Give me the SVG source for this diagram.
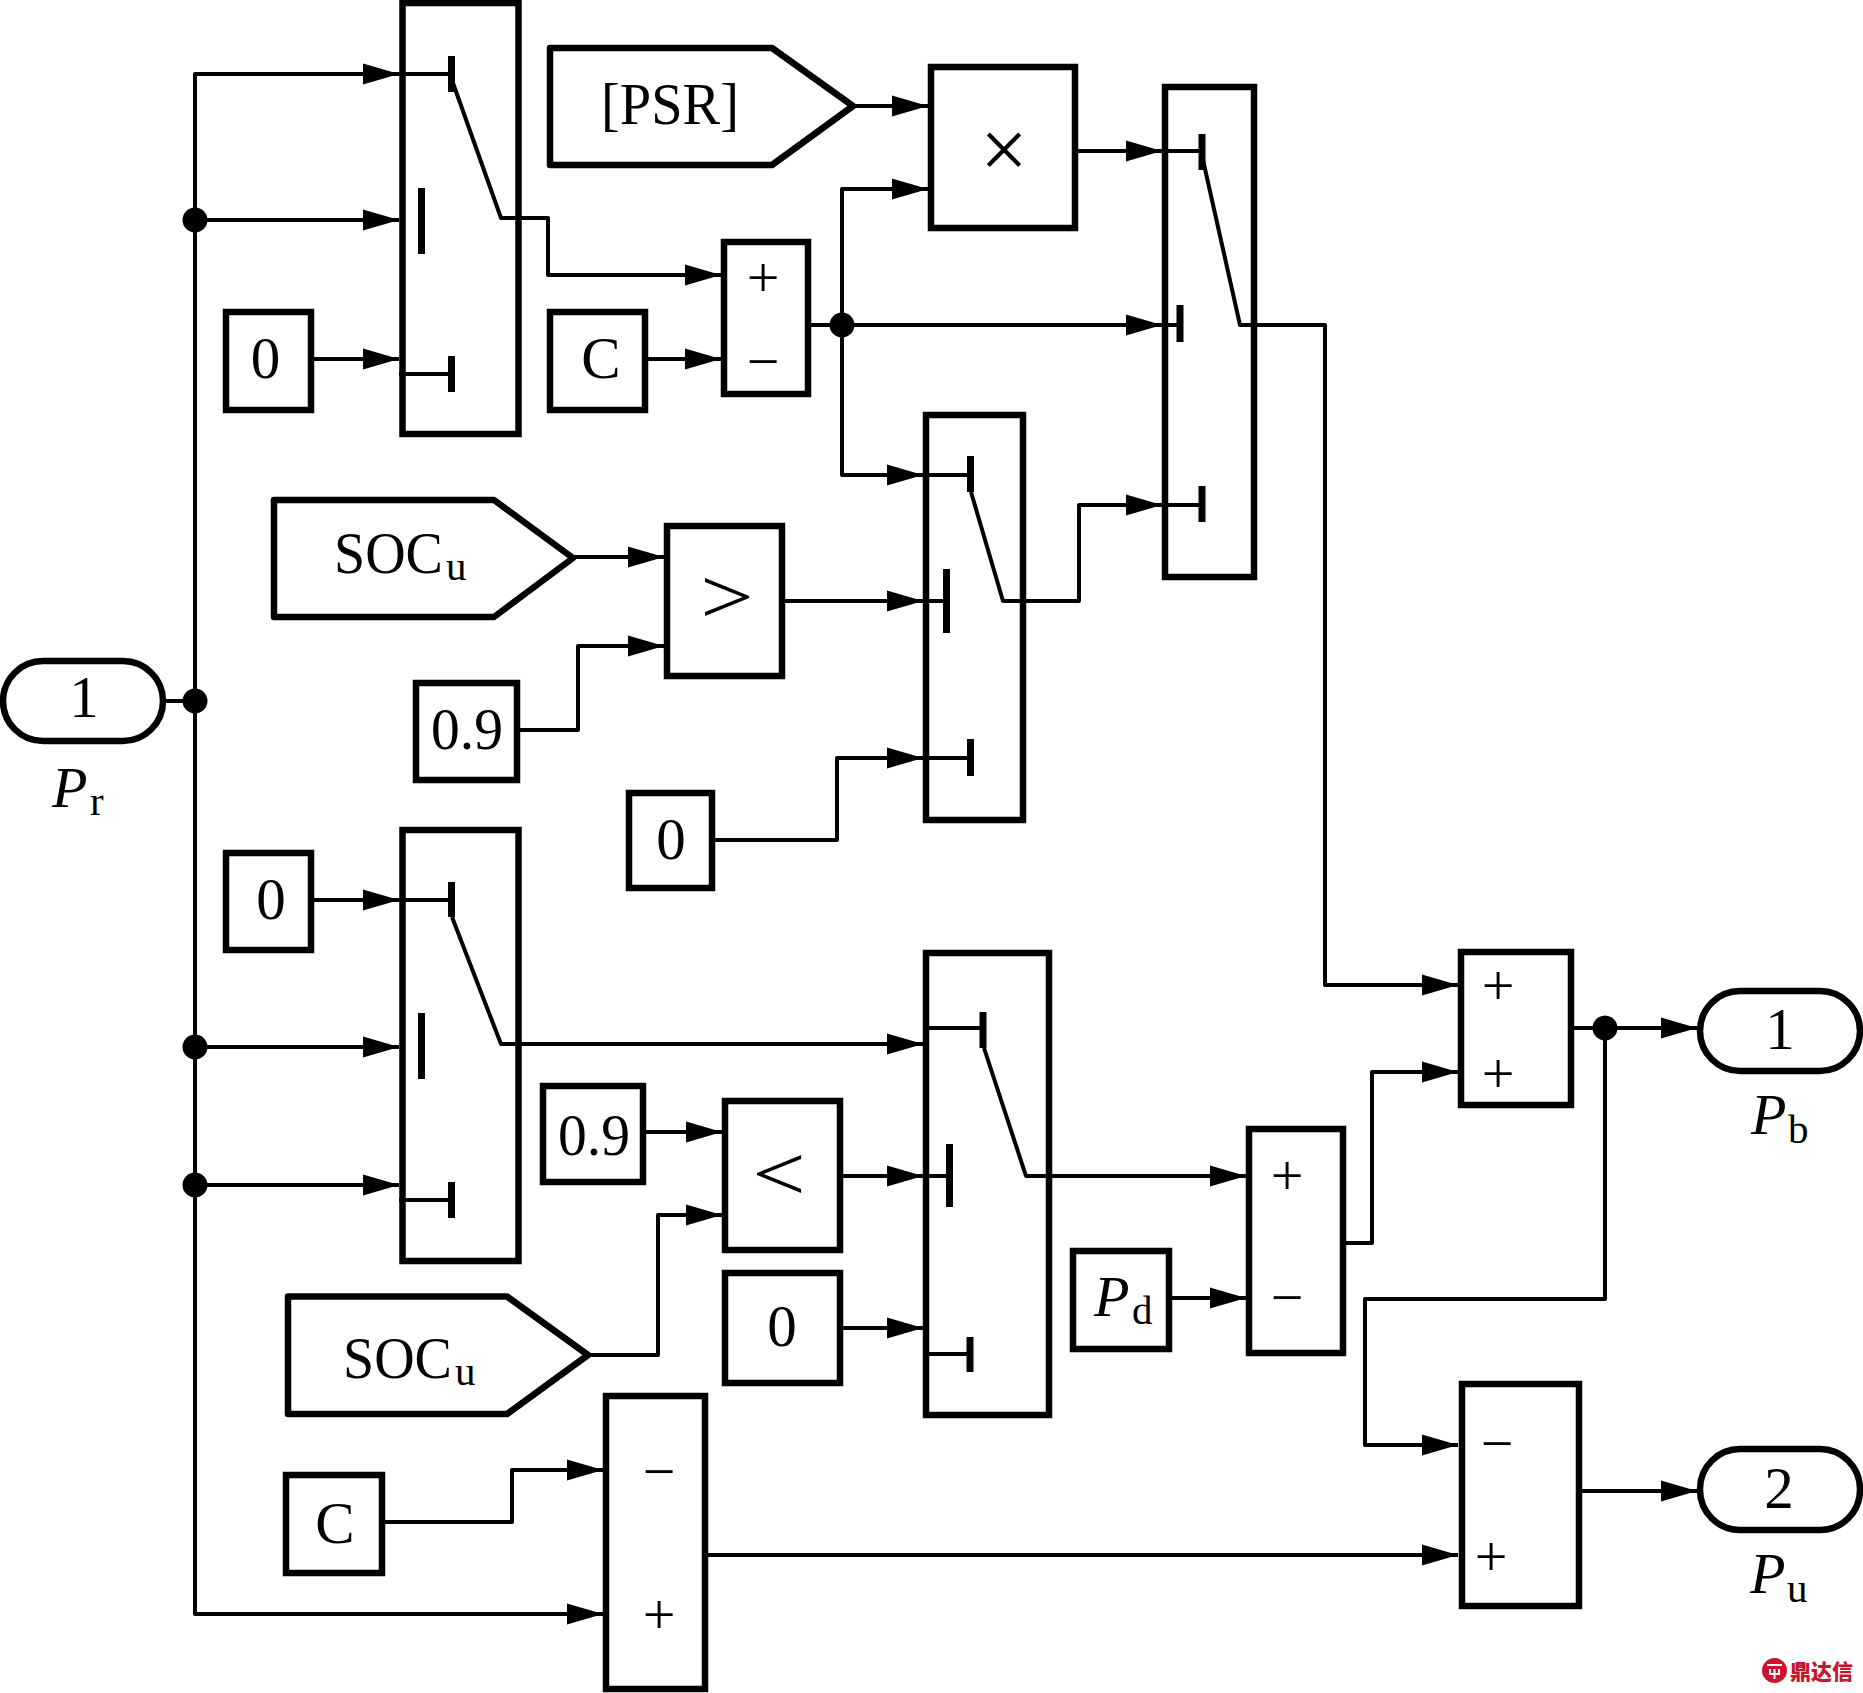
<svg xmlns="http://www.w3.org/2000/svg" width="1863" height="1693" viewBox="0 0 1863 1693">
<style>
.b{fill:none;stroke:#000;stroke-width:6.5;stroke-linejoin:miter}
.g{fill:none;stroke:#000;stroke-width:6.5;stroke-linejoin:round}
.w{fill:none;stroke:#000;stroke-width:4;stroke-linejoin:round}
.a{marker-end:url(#arrow)}
.k{fill:none;stroke:#000;stroke-width:7}
.d{fill:#000;stroke:none}
text{font-family:"Liberation Serif","Times New Roman",serif;fill:#000}
.t{font-size:59px;text-anchor:middle}
.n{font-size:60px}
.m{font-size:56px}
.s{font-size:41px}
.i{font-size:58px;font-style:italic}
.o{font-size:58px;text-anchor:middle}
.c{font-size:84px;text-anchor:middle}
</style>
<defs>
<marker id="arrow" markerUnits="userSpaceOnUse" markerWidth="36" markerHeight="22" refX="36" refY="11" orient="auto"><path d="M0,0.500 L36,11 L0,21.500 z" fill="#000"/></marker>
</defs>
<rect width="1863" height="1693" fill="#fff"/>

<g id="connectors">
<path class="w a" d="M195,701 V74 H399"/>
<path class="w a" d="M195,220 H399"/>
<path class="w a" d="M314,359 H399"/>
<path class="w a" d="M519,218 H548 V275 H721"/>
<path class="w a" d="M647,359 H721"/>
<path class="w a" d="M853,106 H928"/>
<path class="w a" d="M842,325 V189 H928"/>
<path class="w a" d="M1078,151 H1162"/>
<path class="w a" d="M811,325 H1162"/>
<path class="w a" d="M842,325 V475 H923"/>
<path class="w a" d="M1003,601 H1079 V505 H1162"/>
<path class="w a" d="M1240,325 H1325 V985 H1458"/>
<path class="w a" d="M573,557 H664"/>
<path class="w a" d="M520,730 H578 V646 H664"/>
<path class="w a" d="M785,601 H923"/>
<path class="w a" d="M715,840 H837 V758 H923"/>
<path class="w" d="M166,701 H195"/>
<path class="w a" d="M195,701 V1614 H603"/>
<path class="w a" d="M195,1047 H399"/>
<path class="w a" d="M195,1185 H399"/>
<path class="w a" d="M312,900 H399"/>
<path class="w a" d="M501,1044 H923"/>
<path class="w a" d="M644,1132 H722"/>
<path class="w a" d="M588,1355 H658 V1215 H722"/>
<path class="w a" d="M842,1176 H923"/>
<path class="w a" d="M842,1328 H923"/>
<path class="w a" d="M1026,1176 H1246"/>
<path class="w a" d="M1172,1298 H1246"/>
<path class="w a" d="M1346,1243 H1372 V1072 H1458"/>
<path class="w a" d="M1574,1028 H1697"/>
<path class="w a" d="M1605,1028 V1299 H1365 V1445 H1458"/>
<path class="w a" d="M1582,1491 H1697"/>
<path class="w a" d="M385,1522 H512 V1470 H603"/>
<path class="w a" d="M708,1555 H1458"/>
<circle class="d" cx="195" cy="220" r="12.500"/>
<circle class="d" cx="195" cy="701" r="12.500"/>
<circle class="d" cx="195" cy="1047" r="12.500"/>
<circle class="d" cx="195" cy="1185" r="12.500"/>
<circle class="d" cx="842" cy="325" r="12.500"/>
<circle class="d" cx="1605" cy="1028" r="12.500"/>
</g>

<g id="switch1">
<rect class="b" x="402.500" y="3" width="116" height="431"/>
<path class="w" d="M399,74 H451 M399,374 H451 M453,83 L501,218 H519"/>
<path class="k" d="M451.500,56 V92 M421.500,188 V254 M451.500,356 V392"/>
</g>
<g id="const0a"><rect class="b" x="226" y="312" width="85" height="98"/><text class="t" x="265.500" y="378">0</text></g>
<g id="psr"><path class="g" d="M550,48 H772 L853,106 L772,165 H550 Z"/><text x="601" y="124" class="n" textLength="138" lengthAdjust="spacingAndGlyphs">[PSR]</text></g>
<g id="constC1"><rect class="b" x="550" y="312" width="95" height="98"/><text class="t" x="601" y="378">C</text></g>
<g id="sum1"><rect class="b" x="724" y="242" width="84" height="152"/><text class="o" x="763" y="297">+</text><text class="o" x="763" y="381">−</text></g>
<g id="product"><rect class="b" x="931" y="67" width="144" height="161"/><text class="c" x="1004" y="178">×</text></g>
<g id="switch3">
<rect class="b" x="1165" y="87" width="89" height="490"/>
<path class="w" d="M1162,151 H1202 M1162,325 H1180 M1162,505 H1202 M1203,160 L1240,325 H1254"/>
<path class="k" d="M1202,134 V170 M1180,305 V342 M1202,486 V522"/>
</g>
<g id="soc1"><path class="g" d="M274,500 H494 L573,558 L494,617 H274 Z"/><text class="m" transform="translate(334,573) scale(1,1.07)" x="0" y="0">SOC</text><text class="s" x="446" y="580">u</text></g>
<g id="const09a"><rect class="b" x="416" y="683" width="101" height="97"/><text class="n" x="431" y="749" textLength="72" lengthAdjust="spacingAndGlyphs">0.9</text></g>
<g id="greater"><rect class="b" x="667" y="526" width="115" height="150"/><text class="c" transform="translate(727,623) scale(1.13,0.93)" x="0" y="0">&gt;</text></g>
<g id="switch2">
<rect class="b" x="926" y="415" width="97" height="405"/>
<path class="w" d="M923,475 H970 M923,601 H946 M923,758 H970 M971,492 L1003,601 H1023"/>
<path class="k" d="M970.500,456 V492 M946.500,569 V633 M970.500,739 V776"/>
</g>
<g id="const0b"><rect class="b" x="629" y="793" width="83" height="95"/><text class="t" x="671" y="859">0</text></g>
<g id="inport1"><rect class="b" x="3" y="661" width="160" height="80" rx="40" ry="40"/><text class="t" x="84" y="717">1</text></g>
<g id="labelPr"><text class="i" x="52" y="807">P</text><text class="s" x="90" y="815">r</text></g>
<g id="const0c"><rect class="b" x="226" y="853" width="85" height="97"/><text class="t" x="271" y="919">0</text></g>
<g id="switch4">
<rect class="b" x="402.500" y="830" width="116" height="431"/>
<path class="w" d="M399,900 H451 M399,1200 H451 M452,917 L501,1044 H519"/>
<path class="k" d="M451.500,882 V917 M421.500,1013 V1079 M451.500,1182 V1218"/>
</g>
<g id="const09b"><rect class="b" x="543" y="1086" width="100" height="96"/><text class="n" x="558" y="1155" textLength="72" lengthAdjust="spacingAndGlyphs">0.9</text></g>
<g id="less"><rect class="b" x="725" y="1101" width="115" height="149"/><text class="c" transform="translate(779,1200) scale(1.13,0.93)" x="0" y="0">&lt;</text></g>
<g id="soc2"><path class="g" d="M288,1296.500 H507 L588,1355 L507,1414 H288 Z"/><text class="m" transform="translate(343,1378) scale(1,1.07)" x="0" y="0">SOC</text><text class="s" x="455" y="1385">u</text></g>
<g id="const0d"><rect class="b" x="725" y="1273" width="115" height="110"/><text class="t" x="782" y="1346">0</text></g>
<g id="switch5">
<rect class="b" x="926" y="953" width="123" height="462"/>
<path class="w" d="M926,1028 H983 M926,1176 H949 M926,1354 H970 M984,1048 L1026,1176 H1049"/>
<path class="k" d="M983,1012 V1048 M949.500,1144 V1207 M970,1337 V1372"/>
</g>
<g id="constPd"><rect class="b" x="1073" y="1251" width="96" height="98"/><text class="i" x="1094" y="1316">P</text><text class="s" x="1132" y="1324">d</text></g>
<g id="sum3"><rect class="b" x="1249" y="1129" width="94" height="224"/><text class="o" x="1287" y="1195">+</text><text class="o" x="1287" y="1317">−</text></g>
<g id="sum4"><rect class="b" x="1461" y="952" width="110" height="153"/><text class="o" x="1498" y="1005">+</text><text class="o" x="1498" y="1093">+</text></g>
<g id="outport1"><rect class="b" x="1700" y="991" width="160" height="80" rx="40" ry="40"/><text class="t" x="1780" y="1049">1</text></g>
<g id="labelPb"><text class="i" x="1751" y="1134">P</text><text class="s" x="1788" y="1143">b</text></g>
<g id="sum5"><rect class="b" x="1462" y="1384" width="117" height="222"/><text class="o" x="1497" y="1463">−</text><text class="o" x="1491" y="1576">+</text></g>
<g id="outport2"><rect class="b" x="1700" y="1449" width="160" height="81" rx="40" ry="40"/><text class="t" x="1779" y="1508">2</text></g>
<g id="labelPu"><text class="i" x="1750" y="1593">P</text><text class="s" x="1787" y="1602">u</text></g>
<g id="constC2"><rect class="b" x="286" y="1475" width="96" height="98"/><text class="t" x="335" y="1543">C</text></g>
<g id="sum6"><rect class="b" x="606" y="1396" width="99" height="293"/><text class="o" x="659" y="1491">−</text><text class="o" x="659" y="1634">+</text></g>
<g id="watermark"><circle cx="1774.500" cy="1670.500" r="12.500" fill="#c8152d"/><path d="M1767,1665 H1782 M1770,1669 V1674 H1779 V1669 M1774.500,1669 V1679" fill="none" stroke="#fff" stroke-width="2"/><text x="1790" y="1679" style="font-family:'Noto Sans CJK SC',sans-serif;font-size:21px;font-weight:900;fill:#c8152d">鼎达信</text></g>
</svg>
